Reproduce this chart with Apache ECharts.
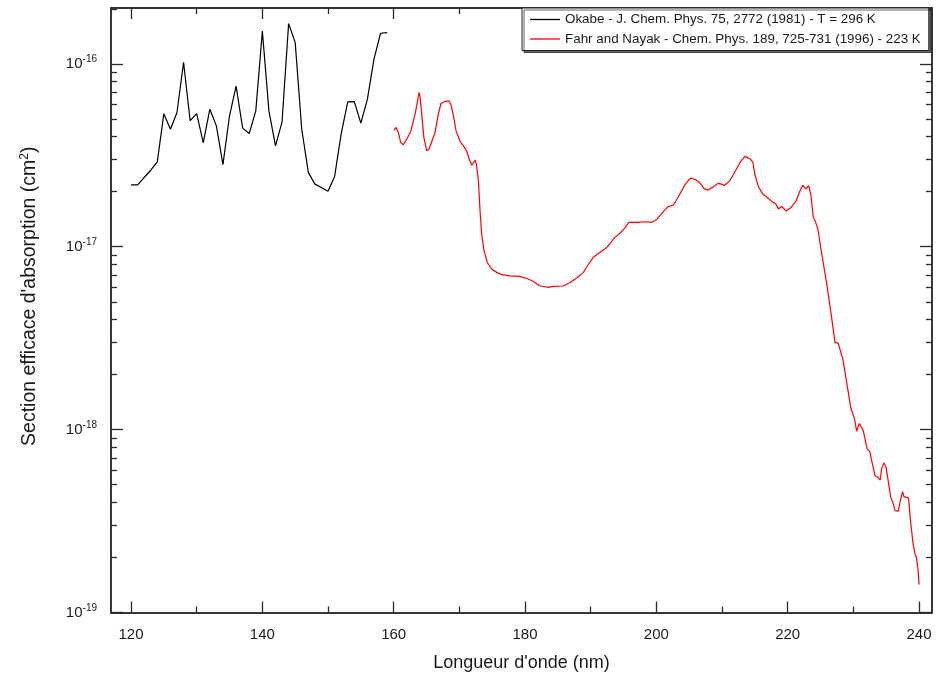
<!DOCTYPE html>
<html><head><meta charset="utf-8">
<script src="https://cdn.jsdelivr.net/npm/echarts@6/dist/echarts.min.js"></script>
<style>html,body{margin:0;padding:0;background:#fff}#c{width:936px;height:681px}</style>
</head><body><div id="c"></div>
<script>
// Okabe - J. Chem. Phys. 75, 2772 (1981), T = 296 K
const okabeWavelength = [120,121,122,123,124,125,126,127,128,129,130,131,132,133,134,135,136,137,138,139,140,141,142,143,144,145,146,147,148,149,150,151,152,153,154,155,156,157,158,159];
const okabeCross = [2.18e-17,2.18e-17,2.39e-17,2.62e-17,2.91e-17,5.34e-17,4.39e-17,5.42e-17,1.02e-16,4.89e-17,5.34e-17,3.70e-17,5.65e-17,4.58e-17,2.81e-17,5.2e-17,7.55e-17,4.45e-17,4.16e-17,5.53e-17,1.51e-16,5.53e-17,3.56e-17,4.82e-17,1.66e-16,1.31e-16,4.39e-17,2.55e-17,2.20e-17,2.11e-17,2.01e-17,2.42e-17,4.13e-17,6.2e-17,6.22e-17,4.74e-17,6.41e-17,1.06e-16,1.47e-16,1.48e-16];

// Fahr and Nayak - Chem. Phys. 189, 725-731 (1996), 223 K
const fahrWavelength = [160.05,160.35,160.7,161.07,161.47,162.0,162.6,163.25,163.66,163.86,164.0,164.27,164.6,165.03,165.4,165.94,166.3,166.8,167.2,167.8,168.4,168.7,169.1,169.5,170.1,170.6,171.1,171.5,171.9,172.2,172.4,172.6,172.9,173.15,173.4,173.76,174.26,174.9,175.7,176.45,177.7,179.2,180.5,181.27,182.2,183.05,183.55,184.3,185.8,186.85,187.87,188.9,189.6,190.4,191.4,192.3,192.9,193.7,194.6,195.2,195.8,197.0,198.5,199.3,200.06,201.1,201.8,202.6,203.3,204.4,205.2,205.9,206.5,207.3,207.9,208.7,209.4,209.95,210.35,211.2,212.0,212.74,213.5,214.3,214.7,215.0,215.5,216.2,216.9,217.57,218.2,218.6,219.1,219.75,220.5,221.3,221.8,222.3,222.75,223.2,223.55,223.9,224.2,224.6,225.2,225.95,226.55,227.2,227.7,228.4,229.0,229.6,230.2,230.5,230.9,231.2,231.5,232.1,232.5,232.9,233.3,233.7,234.1,234.3,234.67,235.0,235.3,235.7,236.1,236.35,236.85,237.1,237.5,237.7,238.0,238.4,238.7,239.1,239.4,239.6,239.85,240.0];
const fahrCross = [4.34e-17,4.49e-17,4.21e-17,3.72e-17,3.61e-17,3.88e-17,4.27e-17,5.3e-17,6.34e-17,6.97e-17,6.69e-17,5.31e-17,3.95e-17,3.35e-17,3.42e-17,3.88e-17,4.22e-17,5.31e-17,6.07e-17,6.22e-17,6.28e-17,6.02e-17,5.2e-17,4.3e-17,3.77e-17,3.57e-17,3.35e-17,3.02e-17,2.79e-17,2.85e-17,2.97e-17,2.83e-17,2.30e-17,1.57e-17,1.17e-17,9.5e-18,8.2e-18,7.55e-18,7.24e-18,7.03e-18,6.93e-18,6.89e-18,6.66e-18,6.46e-18,6.12e-18,6.04e-18,5.99e-18,6.07e-18,6.1e-18,6.38e-18,6.74e-18,7.24e-18,7.97e-18,8.75e-18,9.31e-18,9.8e-18,1.035e-17,1.125e-17,1.2e-17,1.265e-17,1.36e-17,1.36e-17,1.37e-17,1.36e-17,1.41e-17,1.56e-17,1.66e-17,1.69e-17,1.86e-17,2.2e-17,2.37e-17,2.33e-17,2.26e-17,2.07e-17,2.04e-17,2.13e-17,2.22e-17,2.2e-17,2.16e-17,2.3e-17,2.58e-17,2.89e-17,3.12e-17,3.02e-17,2.89e-17,2.49e-17,2.15e-17,1.94e-17,1.86e-17,1.77e-17,1.71e-17,1.61e-17,1.66e-17,1.57e-17,1.64e-17,1.78e-17,2.0e-17,2.17e-17,2.07e-17,2.16e-17,1.9e-17,1.45e-17,1.38e-17,1.25e-17,9.1e-18,6.25e-18,4.47e-18,3.0e-18,2.96e-18,2.43e-18,1.8e-18,1.32e-18,1.14e-18,9.8e-19,1.08e-18,1.1e-18,9.9e-19,7.85e-19,7.6e-19,6.5e-19,5.6e-19,5.5e-19,5.3e-19,6.1e-19,6.6e-19,6.2e-19,5.26e-19,4.26e-19,3.92e-19,3.61e-19,3.58e-19,4.0e-19,4.58e-19,4.3e-19,4.36e-19,4.23e-19,3.18e-19,2.37e-19,2.09e-19,2.0e-19,1.73e-19,1.42e-19];

const seriesNames = ['Okabe - J. Chem. Phys. 75, 2772 (1981) - T = 296 K', 'Fahr and Nayak - Chem. Phys. 189, 725-731 (1996) - 223 K'];
const xMajorTicks = [120,140,160,180,200,220,240];
const xMinorTicks = [130,150,170,190,210,230];
const yDecadeExponents = [-19,-18,-17,-16];
const yMinorMultipliers = [2,3,4,5,6,7,8,9];

const FONT = "'Liberation Sans', Arial, Helvetica, sans-serif";
const X_MIN = 116.95, X_MAX = 241.98;
const Y_MIN = -19, Y_MAX = Math.log10(2.02e-16);
const AX_COLOR = '#2a2a2a';

const yMinor = [];
yDecadeExponents.forEach(e => yMinorMultipliers.forEach(k => {
  const v = e + Math.log10(k);
  if (v < Y_MAX) yMinor.push(v);
}));

function xAx(pos, ticks, len, labels) {
  return {
    type: 'value', position: pos, min: X_MIN, max: X_MAX,
    axisLine: { show: true, onZero: false, lineStyle: { color: AX_COLOR, width: 1.5 } },
    axisTick: { show: true, inside: true, length: len, customValues: ticks, lineStyle: { color: AX_COLOR, width: 1.3 } },
    axisLabel: labels ? { show: true, customValues: xMajorTicks, margin: 15, fontFamily: FONT, fontSize: 15, color: '#1a1a1a' } : { show: false },
    splitLine: { show: false },
    name: labels ? "Longueur d'onde (nm)" : '',
    nameLocation: 'middle', nameGap: 42,
    nameTextStyle: { fontFamily: FONT, fontSize: 18, color: '#1a1a1a' }
  };
}
function yAx(pos, ticks, len, labels) {
  return {
    type: 'value', position: pos, min: Y_MIN, max: Y_MAX,
    axisLine: { show: true, onZero: false, lineStyle: { color: AX_COLOR, width: 1.5 } },
    axisTick: { show: true, inside: true, length: len, customValues: ticks, lineStyle: { color: AX_COLOR, width: 1.3 } },
    axisLabel: labels ? {
      show: true, customValues: yDecadeExponents, margin: 14,
      fontFamily: FONT, fontSize: 15, color: '#1a1a1a',
      formatter: v => '10{sup|' + Math.round(v) + '}',
      rich: { sup: { fontFamily: FONT, fontSize: 10, color: '#1a1a1a', padding: [0, 0, 9, 0] } }
    } : { show: false },
    splitLine: { show: false },
    name: labels ? "Section efficace d'absorption (cm{sup|2})" : '',
    nameLocation: 'middle', nameGap: 70, nameRotate: 90,
    nameTextStyle: { fontFamily: FONT, fontSize: 19.5, color: '#1a1a1a', padding: [0, 0, 0, 28],
      rich: { sup: { fontFamily: FONT, fontSize: 12, color: '#1a1a1a', padding: [0, 0, 10, 0] } } }
  };
}

const chart = echarts.init(document.getElementById('c'), null, { renderer: 'canvas' });
chart.setOption({
  animation: false,
  backgroundColor: '#fff',
  grid: { left: 111, top: 8, width: 821, height: 604.5, containLabel: false },
  xAxis: [
    xAx('bottom', xMajorTicks, 11, true),
    xAx('bottom', xMinorTicks, 6, false),
    xAx('top', xMajorTicks, 11, false),
    xAx('top', xMinorTicks, 6, false)
  ],
  yAxis: [
    yAx('left', yDecadeExponents, 12, true),
    yAx('left', yMinor, 6, false),
    yAx('right', yDecadeExponents, 12, false),
    yAx('right', yMinor, 6, false)
  ],
  legend: {
    left: 522, top: 8, orient: 'vertical',
    padding: [5, 8, 5, 8], itemGap: 6.5, itemWidth: 30, itemHeight: 1.3, icon: 'rect',
    backgroundColor: '#fff', borderColor: '#222', borderWidth: 1,
    shadowColor: 'rgba(0,0,0,0.6)', shadowOffsetX: 2, shadowOffsetY: 2, shadowBlur: 0,
    textStyle: { fontFamily: FONT, fontSize: 13.4, color: '#1a1a1a' },
    data: seriesNames
  },
  series: [
    {
      name: seriesNames[0], type: 'line', symbol: 'none', xAxisIndex: 0, yAxisIndex: 0,
      lineStyle: { color: '#000', width: 1.2 }, itemStyle: { color: '#000' },
      data: okabeWavelength.map((w, i) => [w, Math.log10(okabeCross[i])])
    },
    {
      name: seriesNames[1], type: 'line', symbol: 'none', xAxisIndex: 0, yAxisIndex: 0,
      lineStyle: { color: '#ff0000', width: 1.2 }, itemStyle: { color: '#ff0000' },
      data: fahrWavelength.map((w, i) => [w, Math.log10(fahrCross[i])])
    }
  ]
});
</script></body></html>
